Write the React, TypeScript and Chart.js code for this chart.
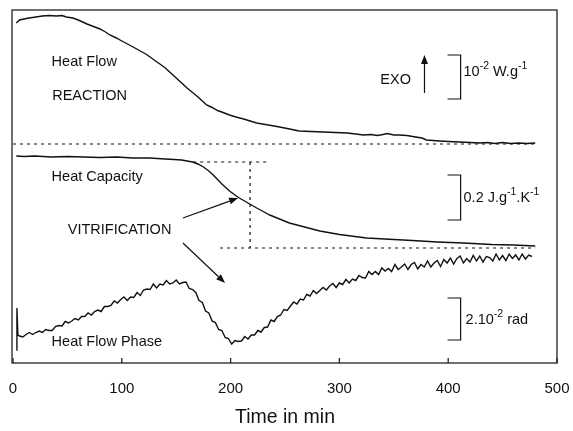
import { useEffect, useRef } from "react";
import { Chart, registerables } from "chart.js";

Chart.register(...registerables);

// ---- data (time in min, signals in arbitrary stacked units) ----
const xTicks = [0, 100, 200, 300, 400, 500];

const heatFlowTime = [3, 6, 10, 15, 21, 27, 33, 40, 45, 49, 55, 60, 64, 68, 74, 80, 85, 89, 95, 100, 107, 112, 117, 122, 126, 131, 135, 140, 144, 148, 152, 156, 160, 165, 170, 174, 178, 183, 188, 193, 199, 205, 212, 218, 224, 232, 240, 245, 252, 263, 274, 285, 296, 307, 315, 322, 329, 335, 340, 344, 350, 355, 362, 370, 376, 380, 386, 392, 400, 410, 420, 429, 436, 443, 450, 457, 465, 472, 480];
const heatFlow = [340, 343, 344, 345, 346, 347, 347.5, 347, 347.5, 346, 345, 343, 341, 339, 336.5, 334, 331, 328, 325, 322, 318, 315, 312, 309, 306, 302, 299, 295, 291, 287, 283, 279, 275, 270.5, 266, 262, 258, 255.5, 252.5, 250.5, 248, 246, 244, 242, 240, 238.5, 237, 236, 234.5, 232, 231.5, 231, 230.5, 230, 229, 228, 228.5, 227.5, 228.5, 229.5, 228, 228, 227.5, 226, 225, 223, 222.5, 222, 221.5, 221, 220.5, 220, 220.5, 219.5, 220.5, 219.5, 220, 219.5, 220];

const heatCapTime = [3, 10, 20, 35, 50, 65, 80, 95, 110, 125, 140, 148, 155, 160, 165, 170, 175, 180, 184, 188, 192, 196, 199, 204, 208, 212, 216, 220, 224, 230, 236, 245, 254, 268, 282, 300, 325, 350, 367, 390, 414, 440, 460, 480];
const heatCap = [207, 206.5, 207, 206, 206.5, 206, 205.5, 206, 205, 205, 204, 203.5, 203, 202, 201, 199, 196, 192, 188, 183.5, 179, 175, 172, 168, 165, 162.5, 160, 157.5, 155, 151.5, 148, 144, 140, 136, 132, 128.5, 125, 123.5, 122.5, 121, 120, 118.5, 118, 117];

const phaseTime = [3, 3.6, 4.5,
  6, 9, 12, 15, 18, 21, 24, 27, 30, 33,
  36, 39, 42, 45, 48, 51, 54, 57, 60, 63,
  66, 69, 72, 75, 78, 81, 84, 87, 90, 93,
  96, 99, 102, 105, 108, 111, 114, 117, 120, 123,
  126, 129, 132, 135, 138, 141, 144, 147, 150, 153,
  156, 159, 162, 165, 168, 171, 174, 177, 180, 183,
  186, 189, 192, 195, 198, 201, 204, 207, 210, 213,
  216, 219, 222, 225, 228, 231, 234, 237, 240, 243,
  246, 249, 252, 255, 258, 261, 264, 267, 270, 273,
  276, 279, 282, 285, 288, 291, 294, 297, 300, 303,
  306, 309, 312, 315, 318, 321, 324, 327, 330, 333,
  336, 339, 342, 345, 348, 351, 354, 357, 360, 363,
  366, 369, 372, 375, 378, 381, 384, 387, 390, 393,
  396, 399, 402, 405, 408, 411, 414, 417, 420, 423,
  426, 429, 432, 435, 438, 441, 444, 447, 450, 453,
  456, 459, 462, 465, 468, 471, 474, 477];
const phase = [13, 55, 28,
  27, 26, 28.5, 30.5, 28.5, 30.5, 32, 30.5, 33.5, 32.5,
  32.5, 36.5, 37.5, 37, 41.5, 40, 42, 44.5, 43, 46.5,
  46.5, 50, 48, 51.5, 53, 51.5, 56.5, 56.5, 57.5, 62,
  60, 63.5, 66, 62.5, 66, 65.5, 70.5, 67.5, 73, 74,
  73.5, 79, 75, 79, 78, 82.5, 79, 80, 83, 79,
  80.5, 81, 74.5, 73.5, 70.5, 62.5, 60.5, 52, 50, 42,
  40.5, 33.5, 32.5, 25.5, 24.5, 19, 22.5, 21.5, 22, 26.5,
  24, 28, 28, 32.5, 31, 35.5, 36, 43, 41.5, 46.5,
  48, 53.5, 52.5, 57, 61, 59, 64, 63, 68.5, 67,
  72.5, 69.5, 72.5, 75.5, 73, 77, 79.5, 75.5, 80, 78.5,
  83.5, 80, 84, 82.5, 87.5, 85.5, 85, 91.5, 88.5, 91.5,
  88.5, 95, 92, 94.5, 91.5, 98.5, 93.5, 96, 99, 93.5,
  98.5, 100.5, 94, 98.5, 96, 102, 96, 100, 102.5, 96.5,
  103.5, 100, 105, 99, 104.5, 107, 100, 104.5, 101, 107.5,
  102, 107, 101, 106.5, 105.5, 102, 109, 103, 107.5, 102.5,
  109, 104.5, 108, 103, 109, 104, 108, 106.5];

const FONT = '"Liberation Sans", Arial, Helvetica, sans-serif';
const INK = "#111";

type Seg = { t: string; sup?: boolean };

function drawRich(ctx: CanvasRenderingContext2D, segs: Seg[], x: number, y: number, size: number) {
  let cx = x;
  ctx.textAlign = "left";
  ctx.textBaseline = "middle";
  ctx.fillStyle = INK;
  for (const s of segs) {
    const fs = s.sup ? size * 0.72 : size;
    ctx.font = `${fs}px ${FONT}`;
    const dy = s.sup ? -size * 0.38 : 0;
    ctx.fillText(s.t, cx, y + dy);
    cx += ctx.measureText(s.t).width;
  }
}

function arrow(ctx: CanvasRenderingContext2D, x1: number, y1: number, x2: number, y2: number) {
  const ang = Math.atan2(y2 - y1, x2 - x1);
  const hl = 9;
  const hw = 3.5;
  const bx = x2 - hl * Math.cos(ang);
  const by = y2 - hl * Math.sin(ang);
  ctx.beginPath();
  ctx.moveTo(x1, y1);
  ctx.lineTo(bx, by);
  ctx.stroke();
  ctx.beginPath();
  ctx.moveTo(x2, y2);
  ctx.lineTo(bx + hw * Math.sin(ang), by - hw * Math.cos(ang));
  ctx.lineTo(bx - hw * Math.sin(ang), by + hw * Math.cos(ang));
  ctx.closePath();
  ctx.fill();
}

const overlay = {
  id: "overlay",
  afterDatasetsDraw(chart: any) {
    const { ctx, chartArea: a, scales } = chart;
    const X = (v: number) => scales.x.getPixelForValue(v);
    const Y = (v: number) => scales.y.getPixelForValue(v);
    ctx.save();
    // frame
    ctx.strokeStyle = "#222";
    ctx.lineWidth = 1.3;
    ctx.strokeRect(a.left - 1, a.top, a.right - a.left + 1, a.bottom - a.top);
    // inward tick marks
    for (const t of xTicks) {
      const px = X(t);
      ctx.beginPath();
      ctx.moveTo(px, a.bottom);
      ctx.lineTo(px, a.bottom - 5);
      ctx.stroke();
    }
    // dotted guide lines
    ctx.strokeStyle = INK;
    ctx.lineWidth = 1.2;
    ctx.setLineDash([3, 4]);
    const dline = (x1: number, y1: number, x2: number, y2: number) => {
      ctx.beginPath();
      ctx.moveTo(X(x1), Y(y1));
      ctx.lineTo(X(x2), Y(y2));
      ctx.stroke();
    };
    dline(0, 219, 480, 219);
    dline(165.6, 201, 236.3, 201);
    dline(217.9, 201, 217.9, 115);
    dline(190.3, 115, 480, 115);
    ctx.setLineDash([]);
    // arrows
    ctx.fillStyle = INK;
    ctx.lineWidth = 1.2;
    arrow(ctx, X(156.2), Y(145), X(206.9), Y(165));
    arrow(ctx, X(156.2), Y(120), X(194.9), Y(80));
    arrow(ctx, X(378.2), Y(270), X(378.2), Y(308));
    // scale brackets
    const bracket = (top: number, bot: number) => {
      ctx.beginPath();
      ctx.moveTo(X(399.4), Y(top));
      ctx.lineTo(X(411.4), Y(top));
      ctx.lineTo(X(411.4), Y(bot));
      ctx.lineTo(X(399.4), Y(bot));
      ctx.stroke();
    };
    bracket(308, 264);
    bracket(188, 143);
    bracket(65, 23);
    // texts
    const fs = 14.5;
    drawRich(ctx, [{ t: "Heat Flow" }], X(35.5), Y(301), fs);
    drawRich(ctx, [{ t: "REACTION" }], X(36), Y(267), fs);
    drawRich(ctx, [{ t: "EXO" }], X(337.6), Y(283), fs);
    drawRich(ctx, [{ t: "10" }, { t: "-2", sup: true }, { t: " W.g" }, { t: "-1", sup: true }], X(414.1), Y(291), fs);
    drawRich(ctx, [{ t: "Heat Capacity" }], X(35.5), Y(186), fs);
    drawRich(ctx, [{ t: "VITRIFICATION" }], X(50.3), Y(133), fs);
    drawRich(ctx, [{ t: "0.2 J.g" }, { t: "-1", sup: true }, { t: ".K" }, { t: "-1", sup: true }], X(414.1), Y(165), fs);
    drawRich(ctx, [{ t: "2.10" }, { t: "-2", sup: true }, { t: " rad" }], X(416), Y(43), fs);
    drawRich(ctx, [{ t: "Heat Flow Phase" }], X(35.5), Y(21), fs);
    ctx.restore();
  },
};

export default function App() {
  const ref = useRef<HTMLCanvasElement>(null);
  useEffect(() => {
    const line = (xs: number[], ys: number[]) => ({
      data: xs.map((x, i) => ({ x, y: ys[i] })),
      borderColor: INK,
      borderWidth: 1.4,
      pointRadius: 0,
      tension: 0,
      fill: false,
    });
    const chart = new Chart(ref.current!, {
      type: "line",
      data: {
        datasets: [
          line(heatFlowTime, heatFlow),
          line(heatCapTime, heatCap),
          line(phaseTime, phase),
        ],
      },
      options: {
        animation: false,
        responsive: false,
        devicePixelRatio: 1,
        layout: { padding: { left: 13, right: 16, top: 10, bottom: 0 } },
        plugins: { legend: { display: false }, tooltip: { enabled: false } },
        scales: {
          x: {
            type: "linear",
            min: 0,
            max: 500,
            afterBuildTicks: (s: any) => {
              s.ticks = xTicks.map((v) => ({ value: v }));
            },
            afterFit: (s: any) => {
              s.height = 68;
              s.paddingLeft = 0;
              s.paddingRight = 0;
            },
            grid: { display: false },
            border: { display: false },
            ticks: { color: INK, padding: 9, font: { family: FONT, size: 15 } },
            title: {
              display: true,
              text: "Time in min",
              color: INK,
              font: { family: FONT, size: 19.5 },
              padding: { top: 0, bottom: 2 },
            },
          },
          y: { type: "linear", min: 0, max: 353, display: false },
        },
      },
      plugins: [overlay],
    });
    return () => chart.destroy();
  }, []);
  return (
    <div style={{ position: "fixed", left: 0, top: 0, width: 573, height: 431, background: "#fff" }}>
      <canvas ref={ref} width={573} height={431} />
    </div>
  );
}
